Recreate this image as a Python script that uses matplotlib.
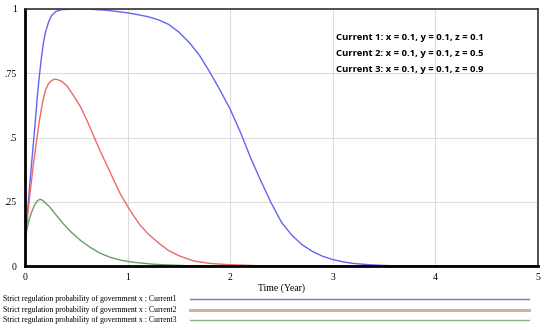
import matplotlib
matplotlib.use("Agg")
import matplotlib.pyplot as plt
from matplotlib.lines import Line2D

# values
t1 = [0, 0.02, 0.04, 0.06, 0.08, 0.1, 0.12, 0.14, 0.16, 0.18, 0.2, 0.23, 0.26, 0.3, 0.35,
      0.45, 0.6, 0.8, 1.0, 1.1, 1.2, 1.3, 1.4, 1.5, 1.6, 1.7, 1.8, 1.9, 2.0, 2.1, 2.2,
      2.3, 2.4, 2.5, 2.6, 2.7, 2.8, 2.9, 3.0, 3.1, 3.2, 3.35, 3.5, 3.7, 5.0]
current1 = [0.10, 0.19, 0.285, 0.38, 0.47, 0.56, 0.66, 0.74, 0.81, 0.87, 0.91, 0.95, 0.975, 0.99, 0.997,
            1.0, 1.0, 0.995, 0.985, 0.978, 0.97, 0.958, 0.94, 0.91, 0.87, 0.82, 0.755, 0.685, 0.61, 0.52, 0.42,
            0.33, 0.245, 0.17, 0.12, 0.083, 0.057, 0.038, 0.025, 0.016, 0.01, 0.005, 0.002, 0.0, 0.0]

t2 = [0, 0.04, 0.08, 0.11, 0.14, 0.17, 0.2, 0.23, 0.26, 0.29, 0.32, 0.36, 0.41, 0.47, 0.54,
      0.6, 0.67, 0.73, 0.8, 0.87, 0.93, 1.0, 1.06, 1.12, 1.2, 1.3, 1.4, 1.5, 1.64, 1.8,
      2.0, 2.3, 5.0]
current2 = [0.10, 0.25, 0.39, 0.48, 0.565, 0.635, 0.685, 0.71, 0.722, 0.727, 0.725, 0.718, 0.70, 0.665, 0.62,
            0.57, 0.505, 0.45, 0.39, 0.33, 0.28, 0.232, 0.195, 0.16, 0.125, 0.09, 0.06, 0.04, 0.02, 0.01,
            0.005, 0.001, 0.0]

t3 = [0, 0.02, 0.04, 0.065, 0.09, 0.12, 0.146, 0.17, 0.2, 0.24, 0.3, 0.37, 0.45, 0.54, 0.63,
      0.73, 0.83, 0.93, 1.03, 1.12, 1.25, 1.4, 1.6, 1.8, 5.0]
current3 = [0.10, 0.145, 0.18, 0.21, 0.235, 0.253, 0.26, 0.256, 0.245, 0.23, 0.20, 0.166, 0.132, 0.10, 0.074,
            0.05, 0.034, 0.023, 0.016, 0.012, 0.007, 0.004, 0.001, 0.0, 0.0]

x_ticks = [0, 1, 2, 3, 4, 5]
y_ticks = [0, 0.25, 0.5, 0.75, 1]
y_labels = ["0", ".25", ".5", ".75", "1"]

notes = ["Current 1: x = 0.1, y = 0.1, z = 0.1",
         "Current 2: x = 0.1, y = 0.1, z = 0.5",
         "Current 3: x = 0.1, y = 0.1, z = 0.9"]
legend_labels = ["Strict regulation probability of government x : Current1",
                 "Strict regulation probability of government x : Current2",
                 "Strict regulation probability of government x : Current3"]

blue = "#6464f0"
red = "#ec6a6a"
green = "#6a9e6a"
legend_colors = ["#7474e0", "#d4a898", "#88b488"]
legend_widths = [1.0, 2.0, 1.0]

W, H = 550, 330
fig = plt.figure(figsize=(5.5, 3.3), dpi=100)
ax = fig.add_axes([25 / W, 1 - 266 / H, (538 - 25) / W, (266 - 9) / H])

ax.plot(t1, current1, color=blue, lw=1.0)
ax.plot(t2, current2, color=red, lw=1.0)
ax.plot(t3, current3, color=green, lw=1.0)

ax.set_xlim(0, 5)
ax.set_ylim(0, 1.0)
ax.set_xticks(x_ticks)
ax.set_xticklabels([str(v) for v in x_ticks], family="Liberation Serif", fontsize=7)
ax.set_yticks(y_ticks)
ax.set_yticklabels(y_labels, family="Liberation Serif", fontsize=7)
ax.tick_params(axis="x", length=0, pad=5)
ax.tick_params(axis="y", length=0, pad=6)
ax.grid(True, color="#dcdcdc", lw=0.8)
ax.set_axisbelow(True)

for side in ["top", "right"]:
    ax.spines[side].set_color("#333333")
    ax.spines[side].set_linewidth(1.2)
for side in ["left", "bottom"]:
    ax.spines[side].set_color("black")
    ax.spines[side].set_linewidth(2.0)

ax.set_xlabel("Time (Year)", family="Liberation Serif", fontsize=7, labelpad=1)

for i, s in enumerate(notes):
    fig.text(336 / W, 1 - (38 + i * 16) / H, s, family="Open Sans", weight="bold",
             fontsize=6.8, va="center", ha="left")

for i, s in enumerate(legend_labels):
    y = 1 - (299 + i * 10.5) / H
    fig.text(3 / W, y, s, family="Liberation Serif", fontsize=5.6, va="center", ha="left")
    fig.add_artist(Line2D([190 / W, 529 / W], [y, y], color=legend_colors[i],
                          lw=legend_widths[i], transform=fig.transFigure))

fig.savefig("out.png", dpi=100)
